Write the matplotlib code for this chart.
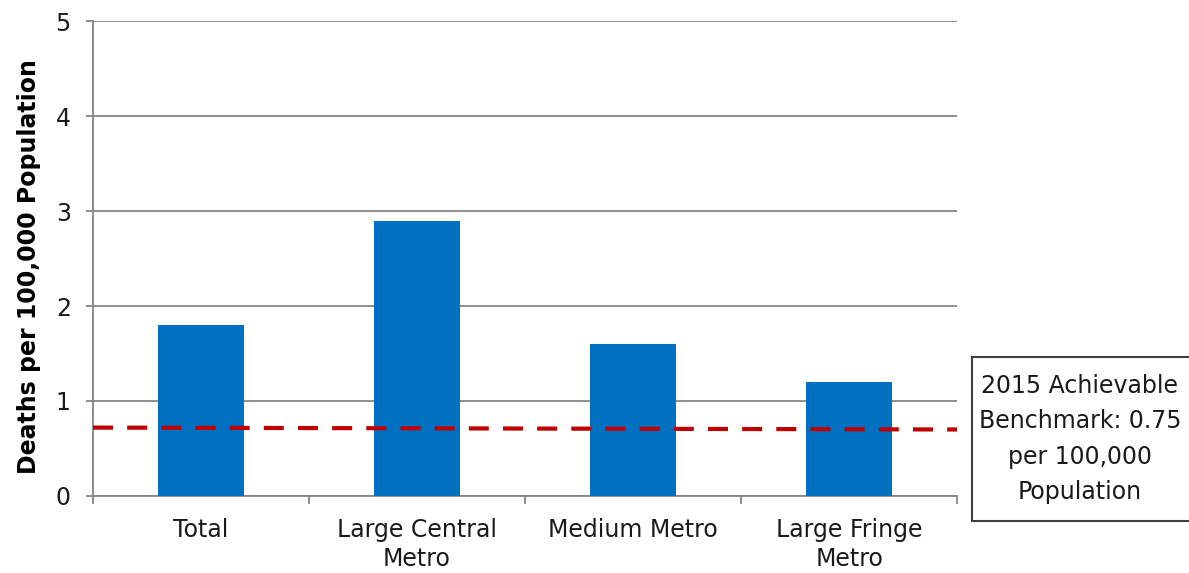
import matplotlib
matplotlib.use("Agg")
import matplotlib.pyplot as plt
from matplotlib.patches import Rectangle
import numpy as np

categories = ["Total", "Large Central\nMetro", "Medium Metro", "Large Fringe\nMetro"]
values = [1.8, 2.9, 1.6, 1.2]
benchmark_ends = [0.72, 0.70]
y_ticks = [0, 1, 2, 3, 4, 5]
y_label = "Deaths per 100,000 Population"
box_text = "2015 Achievable\nBenchmark: 0.75\nper 100,000\nPopulation"

plt.rcParams['font.family'] = ['DejaVu Sans']

fig = plt.figure(figsize=(11.89, 5.73), dpi=100)
ax = fig.add_axes([0.0782, 0.1344, 0.7268, 0.8289])

x = np.arange(len(categories))
ax.bar(x, values, width=0.4, color="#0070C0", zorder=3)
ax.plot([-0.5, len(categories) - 0.5], benchmark_ends, color="#C00000", lw=3,
        dashes=(4.8, 3.4), zorder=4)

ax.set_xlim(-0.5, len(categories) - 0.5)
ax.set_ylim(0, 5)
ax.set_yticks(y_ticks)
ax.set_yticklabels([str(t) for t in y_ticks], fontsize=17, color="#1a1a1a")
ax.yaxis.grid(True, color="#868686", lw=1.3, zorder=0)
ax.set_axisbelow(True)

ax.set_xticks(x)
ax.set_xticklabels(categories, fontsize=17, color="#1a1a1a", linespacing=1.25)
ax.set_xticks(np.arange(-0.5, len(categories)), minor=True)
ax.tick_params(axis='x', which='major', length=0, pad=16)
ax.tick_params(axis='x', which='minor', length=6, width=1.3, color="#868686")
ax.tick_params(axis='y', length=5, width=1.3, color="#868686", pad=11)

for s in ["top", "right"]:
    ax.spines[s].set_visible(False)
for s in ["left", "bottom"]:
    ax.spines[s].set_color("#868686")
    ax.spines[s].set_linewidth(1.3)

ax.set_ylabel(y_label, fontsize=17, fontweight="bold")
ax.yaxis.set_label_coords(-0.06, 0.484)

fig.patches.append(Rectangle((972 / 1189, 1 - 521 / 573), 0.2, (521 - 357) / 573,
                             transform=fig.transFigure, fc="white", ec="#404040",
                             lw=1.5, figure=fig))
fig.text(0.9083, 1 - 439 / 573, box_text, fontsize=17, ha="center", va="center",
         linespacing=1.6, color="#1a1a1a")

fig.savefig("out.png", dpi=100)
